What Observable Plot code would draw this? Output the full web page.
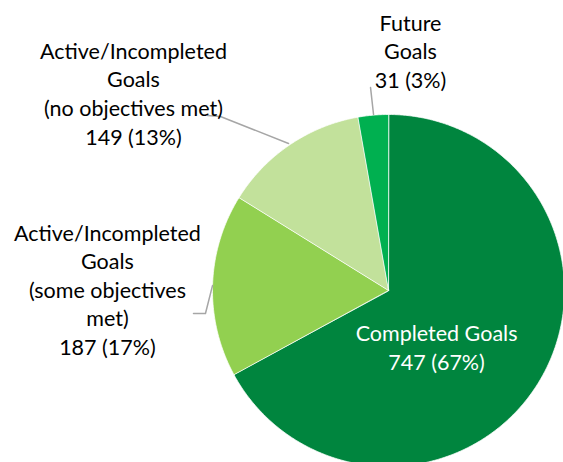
<!DOCTYPE html>
<html>
<head>
<meta charset="utf-8">
<script src="https://cdn.jsdelivr.net/npm/d3@7"></script>
<script src="https://cdn.jsdelivr.net/npm/@observablehq/plot@0.6"></script>
<style>
  html, body { margin: 0; padding: 0; background: white; overflow: hidden; }
</style>
</head>
<body>
<div id="chart"></div>
<script>
// ---- data ----
const categories = [
  "Completed Goals",
  "Active/Incompleted Goals (some objectives met)",
  "Active/Incompleted Goals (no objectives met)",
  "Future Goals"
];
const values = [747, 187, 149, 31];
const percents = ["67%", "17%", "13%", "3%"];
const labelNames = [
  "Completed Goals",
  "Active/Incompleted\nGoals\n(some objectives\nmet)",
  "Active/Incompleted\nGoals\n(no objectives met)",
  "Future\nGoals"
];

// ---- styling / layout (not data) ----
const colors = ["#00853E", "#92D050", "#C2E19B", "#00B050"];
const textColors = ["white", "#000000", "#000000", "#000000"];
// label anchor positions in pie-radius units relative to the centre
const labelPos = [
  [0.273, -0.318],
  [-1.597, 0.011],
  [-1.449, 1.125],
  [0.125, 1.365]
];
const leaders = [
  [],
  [[-1.108, -0.131], [-1.040, -0.131], [-1.0, 0.028]],
  [[-1.028, 0.994], [-0.955, 0.989], [-0.568, 0.835]],
  [[-0.102, 1.153], [-0.085, 1.0]]
];

const total = d3.sum(values);
let acc = 0;
const slicePts = [];
categories.forEach((c, i) => {
  const a0 = acc / total * 2 * Math.PI;
  acc += values[i];
  const a1 = acc / total * 2 * Math.PI;
  const n = Math.max(2, Math.ceil((a1 - a0) / (Math.PI / 360)));
  slicePts.push({cat: c, x: 0, y: 0});
  for (let k = 0; k <= n; k++) {
    const a = a0 + (a1 - a0) * k / n;
    slicePts.push({cat: c, x: Math.sin(a), y: Math.cos(a)});
  }
});

const labels = categories.map((c, i) => ({
  cat: c,
  text: labelNames[i] + "\n" + values[i] + " (" + percents[i] + ")",
  x: labelPos[i][0],
  y: labelPos[i][1],
  color: textColors[i]
}));

const leaderPts = [];
leaders.forEach((pts, i) => pts.forEach(p => leaderPts.push({cat: categories[i], x: p[0], y: p[1]})));

const R = 176;
const plot = Plot.plot({
  width: 563,
  height: 462,
  margin: 0,
  style: {fontFamily: "Lato", overflow: "hidden", background: "white"},
  x: {domain: [-388 / R, 175 / R], axis: null},
  y: {domain: [-172 / R, 290 / R], axis: null},
  color: {domain: categories, range: colors},
  marks: [
    Plot.line(slicePts, {x: "x", y: "y", z: "cat", fill: "cat", stroke: "white", strokeWidth: 0.75, curve: "linear-closed", clip: true}),
    Plot.line(leaderPts, {x: "x", y: "y", z: "cat", stroke: "#A6A6A6", strokeWidth: 1.5}),
    Plot.text(labels, {x: "x", y: "y", text: "text", fill: "color", fontSize: 21.5, lineHeight: 1.33, textAnchor: "middle"})
  ]
});
document.getElementById("chart").appendChild(plot);
</script>
</body>
</html>
